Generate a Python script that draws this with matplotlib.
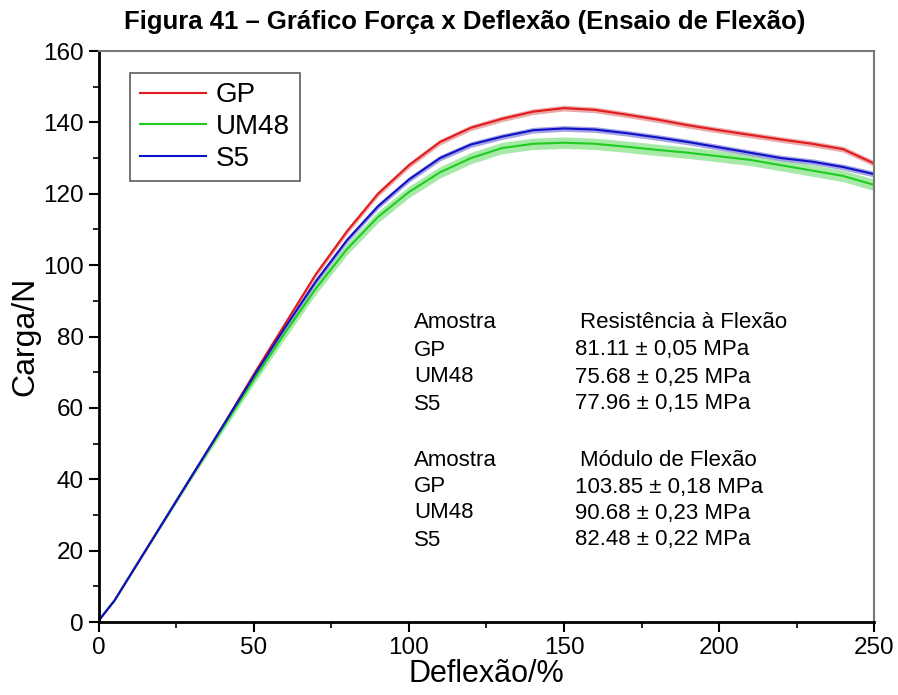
import matplotlib
matplotlib.use("Agg")
import matplotlib.pyplot as plt
import numpy as np
from matplotlib.ticker import MultipleLocator

plt.rcParams['font.family'] = ['Liberation Sans', 'DejaVu Sans']

deflexao = [0, 5, 10, 20, 30, 40, 50, 60, 70, 80, 90, 100, 110, 120, 130, 140,
            150, 160, 170, 180, 190, 200, 210, 220, 230, 240, 250]
carga_gp = [0.5, 6, 13, 27, 41, 55, 69.5, 83.5, 97.5, 109.5, 120, 128, 134.5, 138.5, 141,
            143, 144, 143.5, 142.2, 140.8, 139.2, 137.8, 136.5, 135.2, 134, 132.5, 128.5]
carga_um48 = [0.5, 6, 13, 27, 41, 54.5, 68, 81, 93.5, 104.5, 113.5, 120.5, 126, 130,
              132.8, 134, 134.3, 134, 133.2, 132.3, 131.5, 130.5, 129.5, 128, 126.5, 125, 122.5]
carga_s5 = [0.5, 6, 13, 27, 41, 55, 69, 82.5, 95.5, 107, 116.5, 124, 130, 133.8, 136,
            137.8, 138.3, 138, 137, 135.8, 134.5, 133, 131.5, 130, 129, 127.5, 125.5]

series = ['GP', 'UM48', 'S5']
colors = ['#e31a1c', '#1fcc1f', '#1010c8']
band_colors = ['#e8a0a0', '#9ee89e', '#9a9ae0']
band_width = [0.8, 1.6, 0.8]

fig = plt.figure(figsize=(8.98, 6.95), dpi=100)
ax = fig.add_axes([0.1102, 0.105, 0.8631, 0.8216])

x = np.array(deflexao)
for vals, c, bc, bw, name in zip([carga_gp, carga_um48, carga_s5], colors, band_colors, band_width, series):
    y = np.array(vals)
    scale = np.clip(x / 60.0, 0, 1)
    ax.fill_between(x, y - bw * scale, y + bw * scale, color=bc, lw=0, alpha=0.9)
    ax.plot(x, y, color=c, lw=1.5, label=name)

ax.set_xlim(0, 250)
ax.set_ylim(0, 160)
ax.xaxis.set_major_locator(MultipleLocator(50))
ax.xaxis.set_minor_locator(MultipleLocator(25))
ax.yaxis.set_major_locator(MultipleLocator(20))
ax.yaxis.set_minor_locator(MultipleLocator(10))
ax.tick_params(which='major', direction='out', length=7, width=1.5, labelsize=17.5, pad=4)
ax.tick_params(which='minor', direction='out', length=4, width=1.2)

for s in ['left', 'bottom']:
    ax.spines[s].set_linewidth(2)
    ax.spines[s].set_color('black')
for s in ['top', 'right']:
    ax.spines[s].set_linewidth(1.5)
    ax.spines[s].set_color('#777777')

ax.set_xlabel('Deflexão/%', fontsize=22, labelpad=0)
ax.set_ylabel('Carga/N', fontsize=23, labelpad=2)

leg = ax.legend(loc='upper left', bbox_to_anchor=(0.04, 0.962), fontsize=20, frameon=True,
                fancybox=False, edgecolor='#333333', handlelength=2.4, handletextpad=0.35,
                borderpad=0.35, labelspacing=0.2, borderaxespad=0)
leg.get_frame().set_linewidth(1.2)

fig.text(0.517, 0.968, 'Figura 41 – Gráfico Força x Deflexão (Ensaio de Flexão)',
         ha='center', va='center', fontsize=18.5, fontweight='bold')

rows1 = [('Amostra', 'Resistência à Flexão'), ('GP', '81.11 ± 0,05 MPa'),
         ('UM48', '75.68 ± 0,25 MPa'), ('S5', '77.96 ± 0,15 MPa')]
rows2 = [('Amostra', 'Módulo de Flexão'), ('GP', '103.85 ± 0,18 MPa'),
         ('UM48', '90.68 ± 0,23 MPa'), ('S5', '82.48 ± 0,22 MPa')]
ys1 = [322, 350, 377, 404]
ys2 = [460, 487, 513, 540]
for i, ((a, b), yp) in enumerate(zip(rows1 + rows2, ys1 + ys2)):
    xb = 580 if i % 4 == 0 else 575
    fig.text(414 / 898, 1 - yp / 695, a, ha='left', va='center', fontsize=16)
    fig.text(xb / 898, 1 - yp / 695, b, ha='left', va='center', fontsize=16)

fig.savefig('out.png', dpi=100)
